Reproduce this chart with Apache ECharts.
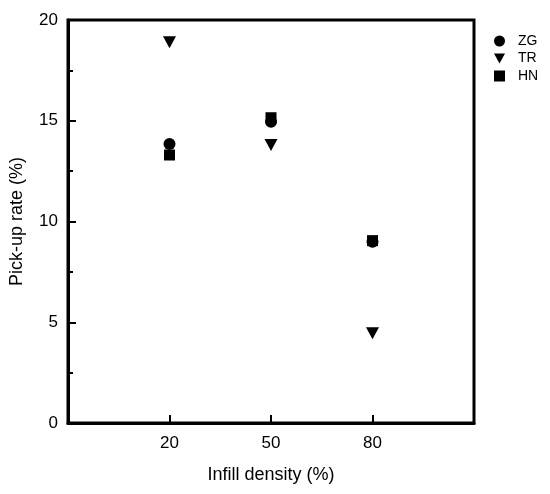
<!DOCTYPE html>
<html><head><meta charset="utf-8">
<script src="https://cdn.jsdelivr.net/npm/echarts@6/dist/echarts.min.js"></script>
<style>html,body{margin:0;padding:0;background:#fff}#c{width:550px;height:494px}</style>
</head><body><div id="c"></div>
<script>
const categories = ['20', '50', '80'];
const zg = [13.85, 14.95, 9.0];
const tr = [18.9, 13.8, 4.45];
const hn = [13.3, 15.15, 9.05];
const yTicks = [0, 5, 10, 15, 20];

const toPts = arr => arr.map((v, i) => [i + 1, v]);
const downTri = 'path://M0,0 L10,0 L5,9 Z';
const font = 'Liberation Sans, Arial, sans-serif';

const chart = echarts.init(document.getElementById('c'));
chart.setOption({
  animation: false,
  grid: { left: 67, top: 20, right: 76, bottom: 71, show: true, borderColor: '#000', borderWidth: 3, backgroundColor: 'transparent' },
  legend: {
    orient: 'vertical', left: 489, top: 29, itemWidth: 11, itemHeight: 11, itemGap: 3.5,
    textStyle: { color: '#000', fontSize: 14, fontFamily: font, lineHeight: 12, padding: [0, 0, 0, 8] },
    data: [
      { name: 'ZG', icon: 'circle' },
      { name: 'TR', icon: downTri },
      { name: 'HN', icon: 'rect' }
    ]
  },
  xAxis: {
    type: 'value', min: 0, max: 4, interval: 1,
    name: 'Infill density (%)', nameLocation: 'middle', nameGap: 43,
    nameTextStyle: { color: '#000', fontSize: 18, fontFamily: font },
    axisLine: { lineStyle: { color: '#000', width: 3 } },
    axisTick: { inside: true, length: 8, lineStyle: { color: '#000', width: 2 } },
    splitLine: { show: false },
    axisLabel: {
      color: '#000', fontSize: 17, fontFamily: font, margin: 12,
      formatter: v => (v >= 1 && v <= categories.length && Number.isInteger(v)) ? categories[v - 1] : ''
    }
  },
  yAxis: {
    type: 'value', min: yTicks[0], max: yTicks[yTicks.length - 1], interval: 5,
    name: 'Pick-up rate (%)', nameLocation: 'middle', nameGap: 42, nameRotate: 90,
    nameTextStyle: { color: '#000', fontSize: 18, fontFamily: font },
    axisLine: { lineStyle: { color: '#000', width: 3 } },
    axisTick: { inside: true, length: 8, lineStyle: { color: '#000', width: 2 } },
    minorTick: { show: true, splitNumber: 2, length: 5, lineStyle: { color: '#000', width: 2 } },
    splitLine: { show: false },
    axisLabel: { color: '#000', fontSize: 17, fontFamily: font, margin: 10 }
  },
  series: [
    { name: 'ZG', type: 'scatter', symbol: 'circle', symbolSize: 12, itemStyle: { color: '#000', opacity: 1 }, data: toPts(zg) },
    { name: 'TR', type: 'scatter', symbol: downTri, symbolSize: [13, 12], itemStyle: { color: '#000', opacity: 1 }, data: toPts(tr) },
    { name: 'HN', type: 'scatter', symbol: 'rect', symbolSize: 11, itemStyle: { color: '#000', opacity: 1 }, data: toPts(hn) }
  ]
});
</script></body></html>
